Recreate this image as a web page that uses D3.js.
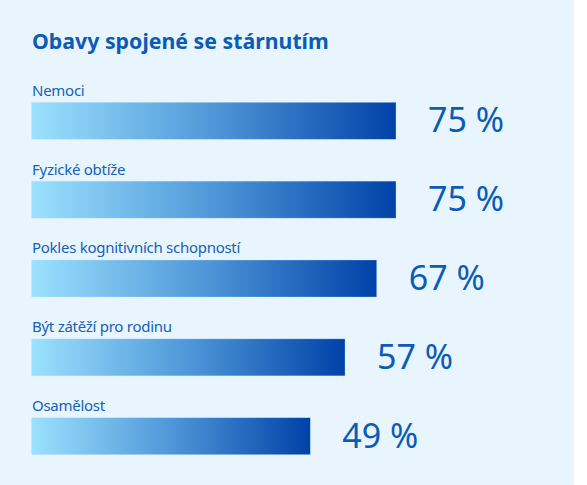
<!DOCTYPE html>
<html>
<head>
<meta charset="utf-8">
<script src="https://cdn.jsdelivr.net/npm/d3@7"></script>
<style>
  html, body { margin: 0; padding: 0; background: #ffffff; }
  svg { display: block; font-family: "Noto Sans", "Open Sans", sans-serif; }
</style>
</head>
<body>
<svg id="chart" width="587" height="485"></svg>
<script>
const title = "Obavy spojené se stárnutím";
const categories = ["Nemoci", "Fyzické obtíže", "Pokles kognitivních schopností", "Být zátěží pro rodinu", "Osamělost"];
const values = [75, 75, 67, 57, 49];
const valueLabels = ["75 %", "75 %", "67 %", "57 %", "49 %"];

const W = 587, H = 485;
const svg = d3.select("#chart");

svg.append("rect").attr("x", 0).attr("y", 0).attr("width", 574).attr("height", H).attr("fill", "#e8f5fe");

const defs = svg.append("defs");
const grad = defs.append("linearGradient").attr("id", "barGrad")
  .attr("x1", "0%").attr("x2", "100%").attr("y1", "0%").attr("y2", "0%");
grad.append("stop").attr("offset", "0%").attr("stop-color", "#9ce1fe");
grad.append("stop").attr("offset", "50%").attr("stop-color", "#4f97d8");
grad.append("stop").attr("offset", "100%").attr("stop-color", "#0042a8");

const left = 31.5;
const x = d3.scalePow().exponent(-1).domain([49, 75]).range([310.3, 396]);
const y = d3.scalePoint().domain(categories).range([102.3, 417.7]);
const barH = 37;

svg.append("text")
  .attr("x", 32).attr("y", 49)
  .attr("font-size", 21.3).attr("font-weight", 700)
  .attr("fill", "#0b5cb6")
  .text(title);

const g = svg.append("g");
const rows = g.selectAll("g.row").data(categories).join("g").attr("class", "row");

rows.append("text")
  .attr("x", 32)
  .attr("y", d => y(d) - 6.6)
  .attr("font-size", 15)
  .attr("letter-spacing", -0.27)
  .attr("fill", "#1660b8")
  .text(d => d);

rows.append("rect")
  .attr("x", left)
  .attr("y", d => y(d))
  .attr("width", (d, i) => x(values[i]) - left)
  .attr("height", barH)
  .attr("fill", "url(#barGrad)")
  .attr("stroke", "#cfe9fb")
  .attr("stroke-opacity", 0.5)
  .attr("stroke-width", 0.6);

rows.append("text")
  .attr("x", (d, i) => x(values[i]) + 32)
  .attr("y", d => y(d) + 30)
  .attr("font-size", 34)
  .attr("font-weight", 400)
  .attr("fill", "#0a5cb8")
  .text((d, i) => valueLabels[i]);
</script>
</body>
</html>
